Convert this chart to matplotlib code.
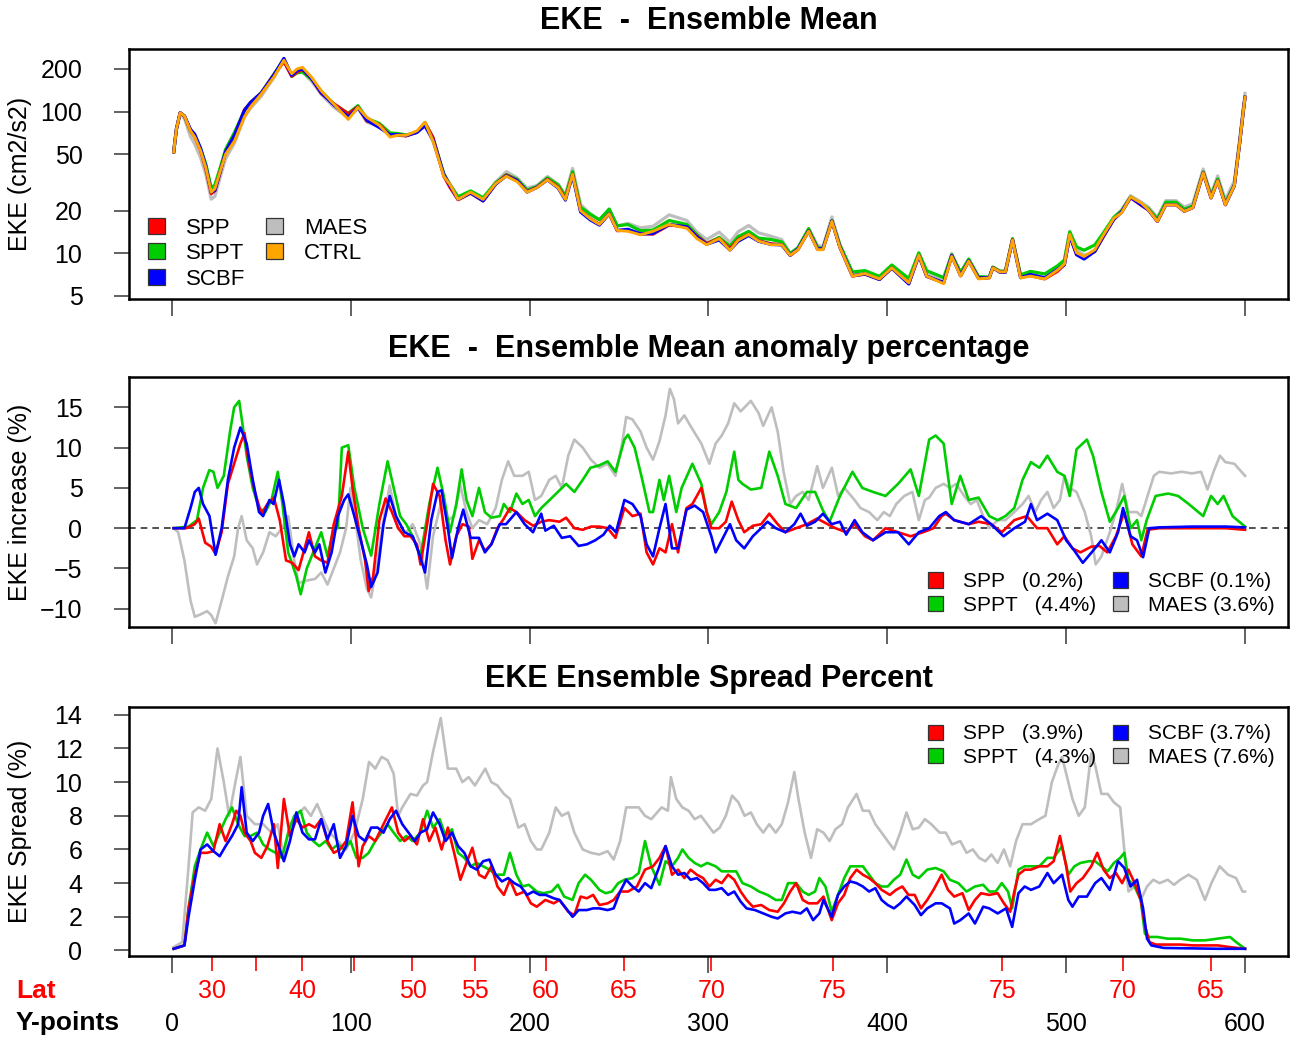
import numpy as np
import matplotlib
matplotlib.use("Agg")
import matplotlib.pyplot as plt
from matplotlib.patches import Patch

plt.rcParams['font.family'] = ['Liberation Sans', 'DejaVu Sans']

# ---- values (x = Y-point, y = value) ----
# CTRL ensemble mean EKE (cm2/s2)
ctrl_mean = [(1, 52), (2.5, 75), (4.6, 98), (7, 93), (10.4, 73), (12.8, 66), (16, 53), (19, 40), (22, 27),
             (24, 28.5), (27, 38), (30, 50), (35, 62), (40.6, 92), (44, 108), (50, 133), (57, 175), (62.6, 230),
             (67, 185), (70, 200), (73, 205), (78, 175), (83.5, 140), (90.5, 113), (98.6, 88), (104, 107),
             (109, 91), (116, 80), (122, 66), (126, 68), (131, 68), (137, 73), (141.5, 84), (146, 62), (152, 35),
             (155.5, 30.5), (160, 24), (167, 27), (174, 24), (181, 31), (187, 35), (193, 32), (198.6, 27),
             (204, 29), (210, 33), (216, 29), (220, 24), (224, 36), (228.5, 20), (234, 17.5), (239, 16),
             (244.5, 19), (249, 14.5), (255, 14.3), (262, 13.5), (269, 14.3), (278, 16), (288, 15), (293.5, 12.7),
             (299, 11.5), (306, 12.7), (312, 10.5), (316.7, 12.4), (322.5, 13.6), (328, 12.2), (335, 11.5),
             (341, 11.5), (345.7, 9.7), (350, 10.6), (356, 14.3), (361, 10.6), (364, 10.6), (369, 16.8),
             (373.5, 11), (380.5, 6.9), (387.5, 7.2), (395.6, 6.6), (402.5, 7.9), (412, 6.2), (417.6, 9.7),
             (422, 6.9), (431.5, 6.1), (436, 9.5), (441, 6.9), (445.5, 8.8), (451, 6.6), (457, 6.7), (459, 7.9),
             (463, 7.4), (466, 7.4), (470, 12.4), (474.5, 6.7), (480, 6.9), (488, 6.6), (495, 7.6), (499, 8.4),
             (502, 13.6), (505.8, 10.1), (510, 9.5), (516, 10.6), (521, 13.6), (526.7, 17.7), (531, 19.3),
             (536, 25), (542, 22.6), (546, 20.3), (551, 16.8), (555.7, 22), (561.5, 22), (566, 19.8),
             (570.8, 21), (576.6, 37), (581, 24.6), (584.7, 32.5), (589, 22), (594, 30), (597, 60), (599, 100),
             (600, 126)]

# Ensemble mean anomaly (%) relative to CTRL
spp_anom = [(1, 0), (8, 0), (12.8, 0.5), (15, 1.2), (18.6, -1.8), (22, -2.3), (24.4, -3.2), (27.8, -0.5),
            (31.3, 5.5), (34.8, 8), (38.3, 10.5), (40.6, 11.8), (43, 8), (46.4, 4.5), (50, 1.8), (53.4, 3),
            (57, 3.8), (60.3, 1), (63.8, -4), (67.3, -4.3), (70.8, -5.2), (74.2, -2.5), (76.6, -0.5), (80, -3.5),
            (83.5, -4), (87, -4.3), (90.5, 0.5), (95, 4), (98.6, 9.5), (101, 5), (104.4, 0), (108, -4),
            (110, -7.8), (112.5, -6), (116, 1), (119.5, 3.7), (123, 2), (126.5, 0), (130, -1), (133.4, -1),
            (137, -2), (139, -4.5), (142.7, 0.5), (146, 5.5), (149.7, 4), (153, -1.5), (155.5, -4.5), (159, -1),
            (162.4, 0.5), (166, 0.2), (168, -3.8), (171.7, -1.5), (175, -2.8), (178.6, -2), (182, 0),
            (185.6, 1.2), (189, 2.5), (192.6, 2), (197.2, 1), (202, 0.3), (206.5, 0.8), (211, 1), (216.7, 0.8),
            (220.4, 1.3), (225, 0), (229.7, -0.2), (234.3, 0.2), (239, 0.2), (243.6, 0), (248, -1.2), (253, 2.5),
            (257.5, 1.5), (262, 1.8), (265.4, -3), (269, -4.5), (272.6, -2.5), (276, -3), (279.6, 0.5),
            (283, -3), (287.7, 2.5), (291, 3), (296, 5), (299, 2), (301.6, 0), (306, 0), (309.7, 0.8),
            (313, 3.3), (316.7, 1), (320, -0.5), (324.8, 0.3), (329.5, 0.5), (334, 1.8), (338.7, 0.5),
            (343, -0.5), (349, 0), (355, 0.5), (360.8, 1.2), (366.6, 0.5), (371, 0), (377, -0.5), (381.7, 0.5),
            (387.5, -1), (392, -1.5), (399, 0), (406, -0.5), (413, -1), (420, -0.5), (425.8, 0), (430.4, 1.5),
            (432.7, 1.8), (437.4, 1), (445.5, 0.5), (451, 0.8), (458, 0.5), (464, -0.5), (471, 1), (478, 1.5),
            (483.7, 0), (489.5, 0), (495, -2), (499, -1), (503.5, -2.5), (508, -3), (514, -2.3), (518.6, -2.2),
            (523, -3), (527.8, -1), (532.5, 2), (537, -2), (542, -3.5), (545.5, -0.2), (552, 0), (570.8, 0),
            (589, 0), (600, -0.2)]

sppt_anom = [(1, 0), (9.3, 0.2), (14, 1), (17.4, 5), (20.9, 7.2), (23.2, 7), (25.5, 5), (29, 6.5), (32.5, 12),
             (34.8, 15), (37.6, 15.8), (39.4, 13), (41.8, 9), (45.2, 5), (48.7, 2.5), (52.2, 2), (55.7, 3.5),
             (59.2, 7), (61.5, 3.5), (65, -3), (69.6, -6), (72, -8.2), (75.4, -5), (79, -3), (83.5, -0.5),
             (87, -3.5), (90.5, 0), (92.8, 0), (95, 10), (98.6, 10.3), (102, 5), (106.7, 0), (111.4, -3.4),
             (116, 3), (120.6, 8.3), (124, 5), (127.6, 1.5), (131, 0.5), (134.6, -1), (139, -3.5), (143.9, 3),
             (148.5, 7.5), (152, 4), (155.5, -0.5), (159, 3), (162, 7.3), (164.7, 3.5), (168, 1.5), (171.7, 5),
             (175, 2), (178.6, 1.3), (183.3, 1.5), (185.6, 3), (189, 2), (192.6, 4.3), (196, 3), (199.5, 3.5),
             (203, 1.5), (206.5, 2.5), (213.5, 4), (220.4, 5.5), (225, 4.5), (229.7, 6), (234, 7.5), (239, 7.8),
             (243.6, 8.3), (248, 7), (253, 11), (255, 11.6), (258.7, 10), (263, 6), (267, 2), (269, 2),
             (272.6, 6), (275, 3.5), (278, 6.5), (282, 2), (285, 5), (291, 8), (296, 5.5), (299, 2),
             (301.6, 0.5), (306, 2), (310, 4.5), (314.4, 9.5), (316.7, 6), (319, 5.5), (323.7, 4.8),
             (329.5, 5), (334, 9.5), (338.7, 6.5), (343, 3), (349, 2.5), (355, 4.5), (359.6, 4.5), (364, 2.2),
             (367.7, 0.8), (373.5, 4), (380.5, 7), (386, 5), (392, 4.5), (399, 4), (406, 5.5), (413, 7.3),
             (417.6, 4), (423.4, 11), (427, 11.5), (431.5, 10.5), (436, 3), (440.8, 6.5), (445.5, 3.5),
             (451, 3.8), (457, 1.5), (461.7, 1), (466, 1.5), (471, 2.5), (475.6, 6), (480.3, 8.2), (485, 7.5),
             (489.5, 9), (495, 7), (499, 6.5), (502, 4), (505.8, 9.8), (511.6, 11), (515, 9), (519.7, 4.5),
             (524.4, 0.8), (529, 2.5), (532.5, 4), (536, 0), (539.6, 1), (542, -1.5), (545, 1), (550, 4),
             (557, 4.3), (562.6, 4), (568.5, 3), (576.6, 1.5), (581, 4), (584.7, 3), (588, 4), (593, 1.5),
             (600, 0.2)]

scbf_anom = [(1, 0), (7, 0), (10.4, 2.5), (12.8, 4.5), (15, 5), (17.4, 3), (21, 1.5), (24.4, -3.3), (27.8, 0),
             (31.3, 6), (34.8, 10), (38.3, 12.5), (41.8, 10.5), (45.2, 6), (48.7, 2), (51, 1.5), (54.5, 3.5),
             (56.8, 3), (59.9, 6), (62.6, 3), (66, -2), (68.4, -3.5), (70.8, -2), (74.2, -3), (76.6, -1.5),
             (80, -3), (82.4, -2), (85.8, -5.5), (89.3, -3), (92.8, 1.5), (96.3, 3.5), (98.6, 4.2), (102, 1.5),
             (105.6, -1.5), (109, -4.5), (111.4, -7.3), (115, -5.5), (118.3, 0.5), (121.8, 4), (125.3, 1.5),
             (130, -0.5), (134.6, -1), (138, -3), (141.5, -5.5), (145, 1), (148.5, 4.5), (150.8, 4.7),
             (154.3, 0), (156.6, -3.7), (160, 0), (162.9, 2.3), (167, -1.2), (171.7, -1.2), (175, -3),
             (178.6, -2), (183.3, 0.5), (186.8, 0.5), (192.6, 2), (197.2, 0.5), (201.9, -0.5), (206.5, 1.8),
             (208.8, -0.3), (213.5, 0.3), (218, -1.2), (222.7, -1), (227.4, -2.2), (232, -2), (236.7, -1.5),
             (241.3, -0.8), (244.8, 0.3), (248.3, -0.5), (253, 3.5), (257.5, 3), (262, 1.5), (265.4, -2),
             (269, -3.5), (272.6, 0), (276, 3), (279.6, -2.5), (283, -2.5), (287.7, 2.3), (292.3, 2.8),
             (297, 2), (301.6, -1), (304, -3), (307.4, -1.5), (312, 0.5), (315.5, -1.5), (320, -2.5),
             (324.8, -1), (329.5, 0), (333, 0.8), (337.6, 0), (343, -0.5), (348, 0.5), (351.5, 1.8), (355, 0.3),
             (359.6, 0.8), (364, 1.8), (368.9, 0.5), (373.5, 0.8), (377, -0.8), (381.7, 1), (386, -0.5),
             (392, -1.5), (399, -0.5), (406, -0.5), (412, -2), (417.6, -0.5), (423.4, 0), (429, 1.5),
             (432.7, 2), (437.4, 1), (445.5, 0.5), (452.5, 1.5), (458, 0.5), (465, -1), (471, 0), (477, 0.8),
             (480.3, 3), (483.7, 1), (489.5, 1.8), (495, 1), (500, -1.5), (504.6, -2.8), (509.3, -4.3),
             (515, -2.8), (519.7, -1.5), (524.4, -3), (529, -0.5), (531.8, 2.5), (536, -1), (539.6, -1.5),
             (543, -3.6), (546.5, 0), (552, 0.1), (570.8, 0.2), (589, 0.2), (600, 0.1)]

maes_anom = [(1, 0), (3.5, -0.5), (7, -4), (10.4, -9), (12.8, -11), (16, -10.7), (19.7, -10.3), (22, -10.8),
             (24.4, -11.8), (27.8, -9), (31.3, -6), (34.8, -3.5), (37, 0), (39, 1.5), (41.8, -1.5), (45.2, -2.5),
             (47.6, -4.5), (51, -3), (54.5, -0.5), (58, -1), (61.5, 0), (65, 1.5), (68.4, -4), (70.8, -6.8),
             (75.4, -6.5), (80, -6.3), (83.5, -5.5), (87, -7), (90.5, -5), (94, -3), (97.4, 0), (99.8, 5),
             (102, 2), (105.6, -4), (109, -7.5), (111.4, -8.6), (115, -4), (118.3, 1), (121.8, 5.3),
             (126.5, 0), (131, -0.5), (134.6, 0.5), (139, -2), (142.7, -7.5), (146, -1), (150.8, 3.5),
             (154.3, 1), (157.8, 1.5), (161.3, 5.3), (164.7, 2), (168, 0), (171.7, 1), (176.3, 0.5), (181, 2.5),
             (184.5, 6), (188, 8.3), (191.4, 6.5), (196, 6.5), (199.5, 7), (203, 3.5), (206.5, 4), (211, 6),
             (214.6, 6.5), (218, 5), (221.6, 9), (225, 11), (229.7, 10), (234.3, 8.5), (239, 7.5), (243.6, 8),
             (248, 6.5), (251.7, 10.5), (254, 13.8), (257.5, 13.5), (262, 12), (265.4, 10), (269, 8.5),
             (272.6, 10.8), (276, 14), (278.4, 17.3), (280.7, 16), (283, 13), (286.5, 14), (291, 12.3),
             (296, 10.5), (300.5, 8), (304, 10.5), (307.4, 11.5), (311, 13), (314.4, 15.5), (318, 14.5),
             (323.7, 15.8), (328, 14.3), (330.6, 12.7), (335.3, 15), (338.7, 12), (342, 7), (345.7, 3),
             (349, 4), (352.7, 4.5), (356, 3.5), (360.8, 7.7), (364, 5), (369, 7.5), (372.5, 4), (376, 5),
             (381.7, 3.5), (385, 2.5), (389.8, 2), (394.4, 1), (398, 2), (401.4, 1.5), (405, 3), (409.5, 4),
             (414, 4.5), (417.6, 1), (421, 3.5), (423.4, 3.8), (427, 5), (431.5, 5.5), (435, 5), (438.5, 5.5),
             (443, 4), (446.6, 3), (450, 3.5), (453.6, 1.5), (457, 0), (461.7, 1), (466, 1), (471, 2),
             (475.6, 3), (479, 4), (482.7, 2), (486, 3.5), (489.5, 4.5), (493, 2.5), (496.5, 3.5), (499, 6.5),
             (502, 5), (505.8, 4.5), (510.4, 2), (514, -1), (516.5, -4.5), (519.7, -3.5), (524.4, -0.5),
             (527.8, 2), (531.3, 5.5), (534.8, 2), (539.6, 2), (542, 1.5), (545.5, 4), (549, 6.5), (552, 7),
             (558.6, 6.8), (564.5, 7), (570.4, 6.8), (575.4, 7), (579, 4.8), (582.4, 7), (586, 9), (589, 8.2),
             (594, 8), (600, 6.5)]

# Ensemble spread (%)
spp_sprd = [(1, 0.1), (7, 0.3), (9.3, 2.5), (12.8, 4.5), (16, 5.8), (19.7, 5.8), (23.2, 5.9), (26.7, 7.5),
            (30, 6.5), (33.6, 7.5), (36, 8.3), (38.3, 8), (40.6, 7), (44, 6.5), (46.4, 5.8), (50, 5.5),
            (53.4, 6.2), (57, 7.5), (59.2, 4.9), (62.6, 9), (66, 6.8), (69.6, 7.8), (73, 7.3), (76.6, 7.5),
            (80, 7.3), (83.5, 7.8), (87, 6.5), (90.5, 5.8), (94, 6), (97.4, 6.5), (101, 8.8), (104.4, 5),
            (106.7, 6.2), (110, 6.8), (113.7, 6.5), (118.3, 7.5), (123, 8.5), (126.5, 7), (130, 6.5),
            (133.4, 6.8), (137, 6.3), (140.4, 7.8), (143.9, 6.5), (147.3, 7.3), (150.8, 6), (154.3, 7.3),
            (157.8, 5.8), (161.3, 4.2), (164.7, 5.2), (168, 6.1), (171.7, 4.5), (175, 4.3), (178.6, 5),
            (182, 3.8), (185.6, 3.3), (189, 4.2), (192.6, 3.3), (197.2, 3.5), (200.7, 2.8), (204, 2.6),
            (208.8, 3), (213.5, 2.8), (216.7, 3), (221.6, 2.3), (225, 2.1), (228.5, 3.2), (232, 3.1),
            (235.5, 3.3), (239, 2.7), (243.6, 2.8), (247, 3), (250.6, 3.5), (255, 3.5), (260, 3.8),
            (264.5, 4.8), (269, 5), (272.6, 5.5), (276, 6.2), (279.6, 4.5), (283, 4.8), (286.5, 4.3), (290, 4.8),
            (293.5, 4.5), (297, 4.3), (300.5, 3.8), (304, 4.2), (307.4, 4), (311, 4.5), (314.4, 4.2), (318, 3.5),
            (321.3, 3), (324.8, 2.6), (329.5, 2.7), (334, 2.4), (338.7, 2.3), (342.2, 2.8), (345.7, 3.5),
            (349, 4), (352.7, 3), (356, 2.8), (360.8, 2.8), (364.3, 3.2), (368.9, 1.8), (372.4, 2.8),
            (375.9, 3.3), (379.3, 4.3), (382.8, 4.8), (386.3, 4.5), (389.8, 4.3), (393.3, 4), (396.8, 3.6),
            (401.4, 3.3), (404.9, 3.6), (408.4, 3.8), (411.8, 3.3), (415.3, 3.3), (418.8, 2.5), (422.3, 3),
            (425.8, 3.6), (430.4, 4.5), (433.9, 3.6), (437.4, 3.2), (442, 3.4), (445.5, 2.4), (449, 3),
            (452.4, 3.4), (457, 3.3), (461.7, 3.4), (465.2, 2.8), (468.7, 2.3), (471, 3.5), (473.3, 4.5),
            (476.8, 4.8), (480.3, 4.8), (485, 5), (489.5, 5), (493, 5.3), (496.5, 6.8), (500, 5), (502.3, 3.5),
            (505.8, 4), (509.3, 4.3), (514, 5), (517.4, 5.8), (520.9, 4.8), (524.4, 4.3), (527.8, 4.6),
            (531.3, 4), (534.8, 4.8), (538.3, 4), (541.7, 3), (544, 1.5), (546.5, 0.5), (550, 0.35),
            (556.8, 0.35), (563.8, 0.35), (570.8, 0.3), (577.6, 0.3), (584.7, 0.3), (591.6, 0.2), (600, 0.1)]

sppt_sprd = [(1, 0.1), (7, 0.3), (9.3, 2.5), (12.8, 5), (16, 6), (19.7, 7), (23.2, 6.2), (26.7, 7), (30, 7.8),
             (33.6, 8.5), (37, 7.5), (40.6, 6.8), (44, 6.8), (47.6, 7), (51, 6.3), (54.5, 6), (58, 5.8),
             (61.5, 5.5), (65, 7), (68.4, 8), (72, 8.3), (75.4, 7), (79, 6.5), (82.4, 6.2), (86, 6.5), (89.3, 6),
             (92.8, 6.3), (96.3, 6), (99.8, 6.5), (103.2, 5.5), (106.7, 5.5), (110, 5.8), (113.7, 6.5),
             (117.2, 7), (120.6, 7.5), (124, 7), (127.6, 6.5), (131, 6.8), (134.6, 6.5), (139, 7), (142.7, 8.3),
             (146, 7.3), (149.7, 7.8), (153, 6.8), (156.6, 7.2), (160, 5.8), (163.5, 5.5), (167, 5),
             (170.5, 5.2), (174, 5), (177.5, 4.8), (181, 4.5), (185.6, 4.5), (189, 5.8), (192.6, 4.5),
             (196, 3.8), (199.5, 3.9), (204, 3.5), (207.7, 3.4), (212.3, 3.5), (215.8, 3.9), (219.3, 3.2),
             (224, 3), (227.4, 4), (231, 4.5), (234.3, 4.2), (239, 3.6), (242.5, 3.4), (246, 3.5), (249.5, 4),
             (253, 4.2), (257.5, 4.3), (261, 4.6), (264.5, 6.5), (268, 5), (272.6, 3.9), (276, 5.3), (279.6, 5),
             (283, 5.5), (285.4, 6), (288.9, 5.5), (292.3, 5.2), (295.8, 5), (299.3, 5.2), (304, 5), (307.4, 4.7),
             (312, 4.7), (315.5, 4.7), (319, 4), (323.7, 3.8), (328.3, 3.5), (333, 3.3), (337.6, 3), (341, 3),
             (344.5, 4), (349, 4), (352.7, 3.5), (356, 3.3), (359.6, 3.5), (362, 4.3), (365.4, 3.8),
             (368.9, 2.3), (372.4, 3.3), (375.9, 4.3), (379.3, 5), (382.8, 5), (386.3, 5), (389.8, 4.5),
             (393.3, 4), (396.8, 3.8), (400.2, 3.8), (403.7, 4.2), (407.2, 4.5), (410.7, 5.4), (414.2, 4.5),
             (417.6, 4.3), (422.3, 4.8), (427, 4.9), (431.5, 4.7), (435, 4.2), (439.7, 4), (444.3, 3.5),
             (449, 3.8), (453.6, 3.9), (457, 3.5), (460.6, 3.5), (464, 4), (467.5, 3.5), (469.8, 2.5),
             (473.3, 4.8), (476.8, 5), (480.3, 5), (485, 5), (489.5, 5.5), (493, 5.5), (497.7, 6.2),
             (501.2, 4.5), (504.6, 5), (508, 5.2), (512.7, 5.3), (516.2, 5.3), (519.7, 5), (523.2, 4.7),
             (526.7, 5.2), (530.2, 5.5), (532.5, 5.8), (534.8, 4.2), (538.3, 3.8), (541.7, 3), (544, 1),
             (546.5, 0.8), (551, 0.8), (556.8, 0.7), (563.8, 0.7), (570.8, 0.6), (577.6, 0.6), (584.7, 0.7),
             (591.6, 0.8), (595, 0.5), (600, 0.1)]

scbf_sprd = [(1, 0.1), (7, 0.3), (9.3, 2), (12.8, 4.2), (16, 6), (19.7, 6.3), (23.2, 5.9), (26.7, 5.6), (30, 6.2),
             (33.6, 6.8), (37, 7.5), (39, 9.7), (41.8, 7), (45.2, 6.5), (48.7, 7), (51, 8), (53.8, 8.7), (57, 7),
             (60.3, 6), (62.6, 5.3), (66, 6.5), (69.6, 8.2), (73, 7), (76.6, 6.6), (80, 6.6), (83.5, 7.8),
             (87, 6.6), (90.5, 7.5), (94, 5.5), (97.4, 6.2), (101, 8), (104.4, 6.8), (108, 6.5), (111.4, 7.3),
             (115, 7.3), (118.3, 7), (121.8, 7.8), (125.3, 8.3), (128.8, 7.5), (132.3, 7), (135.8, 6.5),
             (139, 7), (142.7, 7.2), (146, 8.2), (149.7, 7.5), (153, 6.5), (156.6, 7), (160, 6.2), (163.5, 5.8),
             (167, 5), (170.5, 4.8), (174, 5.3), (177.5, 5.4), (181, 4.5), (184.5, 4.1), (188, 4.3), (191.4, 4),
             (195, 3.8), (198.6, 3.3), (202, 3.5), (205.6, 3.3), (209, 3.3), (213.5, 3.1), (216.7, 3),
             (220.4, 2.5), (224, 2), (227.4, 2.4), (232, 2.4), (235.5, 2.5), (239, 2.5), (243.6, 2.4),
             (247, 2.5), (250.6, 3.5), (254, 4.2), (257.5, 3.8), (261, 3.5), (264.5, 4), (268, 3.7), (272.6, 5),
             (276, 6.2), (279.6, 5), (283, 4.5), (286.5, 4.6), (290, 4.2), (293.5, 4.3), (297, 4), (300.5, 3.6),
             (304, 3.6), (307.4, 3.7), (311, 3.3), (314.4, 3.5), (318, 2.9), (321.3, 2.5), (326, 2.4),
             (330.6, 2.2), (335.3, 2), (338.7, 1.9), (343, 2.2), (346.9, 2.3), (351.5, 2.2), (355, 2.5),
             (358.5, 1.8), (362, 2.2), (364.3, 3), (368.9, 2), (372.4, 3.3), (375.9, 3.8), (379.3, 4.1),
             (382.8, 4), (386.3, 3.8), (389.8, 3.5), (393.3, 3.7), (396.8, 3), (400.2, 2.7), (403.7, 2.5),
             (407.2, 2.8), (410.7, 3.2), (415.3, 2.7), (418.8, 2.1), (422.3, 2.5), (427, 2.8), (430.4, 2.8),
             (435, 2.5), (437.4, 1.6), (440.8, 1.8), (445.5, 2.2), (449, 1.6), (453.6, 2.6), (457, 2.5),
             (461.7, 2.2), (466.4, 2.5), (469.8, 1.4), (473.3, 3.4), (476.8, 3.8), (480.3, 3.6), (485, 3.8),
             (489.5, 4.6), (493, 4), (497.7, 4.5), (501.2, 3), (503.5, 2.6), (507, 3.2), (511.6, 3.2),
             (516.2, 4), (519.7, 4.3), (524.4, 3.6), (529, 5.3), (532.5, 4.9), (536, 3.8), (539.6, 4.2),
             (543, 2.5), (545.2, 0.7), (547.6, 0.3), (554.5, 0.15), (570.8, 0.12), (584.7, 0.1), (600, 0.1)]

maes_sprd = [(1, 0.2), (5.8, 0.5), (9.3, 5), (11.6, 8.2), (15, 8.5), (18.6, 8.3), (22, 9), (25.5, 12), (29, 10),
             (32, 8), (35.5, 10), (38.3, 11.5), (41.8, 8), (46.4, 7.5), (51, 7.5), (55.7, 7), (59.2, 7.5),
             (62.6, 5.5), (66, 7.5), (69.6, 8), (74.2, 8.5), (77.7, 8), (81.2, 8.7), (84.7, 7.8), (88.2, 7),
             (92.8, 6.5), (97.4, 6), (102, 7), (106.7, 9), (110.2, 11.2), (113.7, 10.8), (117.2, 11.5),
             (120.6, 11.3), (124, 10.5), (126.5, 8), (128.8, 8.5), (133.4, 9.3), (137, 9.2), (140.4, 9.8),
             (142.7, 10), (146, 11.8), (150.3, 13.8), (154.3, 10.8), (159, 10.8), (162.4, 10), (165.9, 10.3),
             (169.4, 9.8), (175.2, 10.8), (178.6, 10), (182, 9.8), (185.6, 9.3), (189, 9), (193.7, 7.3),
             (197.2, 7.5), (200.7, 6.5), (204, 6), (206.5, 6), (211, 7), (214.6, 8.5), (218, 8), (221.6, 8.2),
             (225, 7), (229.7, 6), (234.3, 5.8), (239, 5.7), (243.6, 5.9), (247, 5.4), (250.6, 6.5), (254, 8.5),
             (257.5, 8.5), (261, 8.5), (264.5, 8), (268, 7.8), (273.8, 8.5), (277.3, 8.3), (279, 10.3), (282, 9),
             (285.4, 8.5), (288.9, 8.3), (292.3, 7.8), (295.8, 8), (299.3, 7.5), (302.8, 7), (306.3, 7.3),
             (309.7, 8), (313.2, 9.2), (316.7, 8.8), (320.2, 8), (323.7, 8.2), (327, 7.5), (330.6, 7),
             (334, 7.5), (337.6, 7), (341, 7.5), (344.5, 8.8), (348, 10.6), (350.3, 9), (353.8, 7), (357.3, 5.5),
             (360.8, 7.2), (364.3, 7), (367.7, 6.5), (371, 7.2), (374.7, 7.5), (378, 8.5), (382.8, 9.3),
             (386.3, 8.3), (389.8, 8.3), (393.3, 7.5), (396.8, 7), (400.2, 6.5), (403.7, 6), (407.2, 7),
             (410.7, 8.2), (414.2, 7.2), (417.6, 7.3), (421, 7.8), (424.6, 7.5), (429.2, 7), (432.7, 7),
             (436.2, 6.3), (440.8, 6.5), (444.3, 5.8), (447.8, 6), (451.3, 5.5), (454.8, 5.3), (458.2, 5.7),
             (461.7, 5.2), (465.2, 6), (468.7, 5), (472, 6.5), (475.6, 7.5), (480.3, 7.5), (485, 7.8),
             (488.4, 8), (492, 10), (495.4, 11), (497.7, 11.5), (500, 10.5), (503.5, 9), (507, 8), (510.4, 8.5),
             (514, 11.7), (516.2, 11), (519.7, 9.3), (523.2, 9.3), (526.7, 8.8), (530.2, 8.5), (532.5, 6),
             (534.8, 3.5), (538.3, 3.8), (541.7, 3), (545.2, 3.8), (548.7, 4.2), (552.2, 4), (556.8, 4.2),
             (560.3, 3.9), (563.8, 4.2), (568.4, 4.5), (573, 4.2), (577.6, 3), (581.2, 4), (585.8, 5),
             (590.5, 4.5), (595, 4.3), (598.6, 3.5), (600, 3.5)]

names = ['SPP', 'SPPT', 'SCBF', 'MAES', 'CTRL']
colors = {'SPP': '#FF0000', 'SPPT': '#00CD00', 'SCBF': '#0000FF', 'MAES': '#BEBEBE', 'CTRL': '#FFA500'}
anom_pct = {'SPP': '0.2%', 'SPPT': '4.4%', 'SCBF': '0.1%', 'MAES': '3.6%'}
sprd_pct = {'SPP': '3.9%', 'SPPT': '4.3%', 'SCBF': '3.7%', 'MAES': '7.6%'}

ypoint_ticks = [0, 100, 200, 300, 400, 500, 600]
lat_ticks = [22.6, 46.9, 72.8, 102, 134.5, 169.6, 209.2, 252.8, 301.6, 369.4, 464.3, 531.8, 580.9]
lat_labels = ['30', '', '40', '', '50', '55', '60', '65', '70', '75', '75', '70', '65']

anom = {'SPP': spp_anom, 'SPPT': sppt_anom, 'SCBF': scbf_anom, 'MAES': maes_anom}
sprd = {'SPP': spp_sprd, 'SPPT': sppt_sprd, 'SCBF': scbf_sprd, 'MAES': maes_sprd}

LW = 1.9
TICK_FS = 18
LAB_FS = 18
TITLE_FS = 22
LEG_FS = 15

fig = plt.figure(figsize=(12.99, 10.43), dpi=100)
ax1 = fig.add_axes([0.0993, 0.7133, 0.8922, 0.2397])
ax2 = fig.add_axes([0.0993, 0.3988, 0.8922, 0.2397])
ax3 = fig.add_axes([0.0993, 0.0834, 0.8922, 0.2387])


def frame(ax):
    for s in ax.spines.values():
        s.set_linewidth(1.8)
    ax.set_xlim(-24, 624)
    ax.set_xticks(ypoint_ticks)
    ax.tick_params(axis='both', length=10.5, width=1.3, color='#555555', labelsize=TICK_FS)
    ax.tick_params(axis='y', pad=23)
    ax.tick_params(axis='x', length=12.5)


def handles(labels):
    return [Patch(facecolor=colors[n], edgecolor='#333333', linewidth=0.9, label=l) for n, l in labels]


leg_kw = dict(frameon=False, ncol=2, handlelength=0.75, handleheight=0.75, handletextpad=0.95,
              labelspacing=0.2, borderpad=0, borderaxespad=0)

# --- top: ensemble mean (experiments = CTRL scaled by their anomaly %) ---
cx, cy = np.array(ctrl_mean).T
for n in ['MAES', 'SPPT', 'SPP', 'SCBF']:
    ex, ey = np.array(anom[n]).T
    ax1.plot(cx, cy * (1 + np.interp(cx, ex, ey) / 100.0), color=colors[n], lw=2.3,
             solid_joinstyle='round')
ax1.plot(cx, cy, color=colors['CTRL'], lw=2.1, solid_joinstyle='round')
frame(ax1)
ax1.set_yscale('log')
ax1.set_ylim(4.76, 276)
ax1.set_yticks([5, 10, 20, 50, 100, 200])
ax1.set_yticklabels(['5', '10', '20', '50', '100', '200'])
ax1.yaxis.set_minor_locator(plt.NullLocator())
ax1.tick_params(labelbottom=False)
ax1.set_ylabel('EKE (cm2/s2)', fontsize=LAB_FS)
ax1.yaxis.set_label_coords(-0.0837, 0.5)
ax1.set_title('EKE  -  Ensemble Mean', fontsize=TITLE_FS, fontweight='bold', pad=14.5)
ax1.legend(handles=handles([(n, n) for n in names]), loc='lower left', bbox_to_anchor=(0.0164, 0.038),
           fontsize=16, columnspacing=0.94, **leg_kw)

# --- middle: anomaly percentage ---
for n in ['MAES', 'SPPT', 'SPP', 'SCBF']:
    ex, ey = np.array(anom[n]).T
    ax2.plot(ex, ey, color=colors[n], lw=LW, solid_joinstyle='round')
ax2.axhline(0, color='#333333', lw=1.2, ls=(0, (4, 3)), zorder=0)
frame(ax2)
ax2.set_ylim(-12.27, 18.76)
ax2.set_yticks([-10, -5, 0, 5, 10, 15])
ax2.tick_params(labelbottom=False)
ax2.set_ylabel('EKE increase (%)', fontsize=LAB_FS)
ax2.yaxis.set_label_coords(-0.0837, 0.5)
ax2.set_title('EKE  -  Ensemble Mean anomaly percentage', fontsize=TITLE_FS, fontweight='bold', pad=14.5)
lab2 = [('SPP', 'SPP   (%s)' % anom_pct['SPP']), ('SPPT', 'SPPT   (%s)' % anom_pct['SPPT']),
        ('SCBF', 'SCBF (%s)' % anom_pct['SCBF']), ('MAES', 'MAES (%s)' % anom_pct['MAES'])]
ax2.legend(handles=handles(lab2), loc='lower left', bbox_to_anchor=(0.689, 0.05), fontsize=LEG_FS,
           columnspacing=0.8, **leg_kw)

# --- bottom: spread percent ---
for n in ['MAES', 'SPPT', 'SPP', 'SCBF']:
    ex, ey = np.array(sprd[n]).T
    ax3.plot(ex, ey, color=colors[n], lw=LW, solid_joinstyle='round')
frame(ax3)
ax3.set_ylim(-0.33, 14.46)
ax3.set_yticks(range(0, 15, 2))
ax3.set_ylabel('EKE Spread (%)', fontsize=LAB_FS)
ax3.yaxis.set_label_coords(-0.0837, 0.5)
ax3.set_title('EKE Ensemble Spread Percent', fontsize=TITLE_FS, fontweight='bold', pad=14.5)
lab3 = [('SPP', 'SPP   (%s)' % sprd_pct['SPP']), ('SPPT', 'SPPT   (%s)' % sprd_pct['SPPT']),
        ('SCBF', 'SCBF (%s)' % sprd_pct['SCBF']), ('MAES', 'MAES (%s)' % sprd_pct['MAES'])]
ax3.legend(handles=handles(lab3), loc='upper left', bbox_to_anchor=(0.689, 0.93), fontsize=LEG_FS,
           columnspacing=0.8, **leg_kw)

ax3.set_xticks(ypoint_ticks)
ax3.set_xticklabels([str(v) for v in ypoint_ticks])
ax3.set_xticks(lat_ticks, minor=True)
ax3.set_xticklabels(lat_labels, minor=True)
ax3.tick_params(axis='x', which='major', pad=27.5, labelsize=TICK_FS)
ax3.tick_params(axis='x', which='minor', length=11, width=1.2, color='#FF0000', labelcolor='#FF0000',
                pad=5.5, labelsize=TICK_FS)

fig.text(16 / 1299, 1 - 991 / 1043, 'Lat', color='#FF0000', fontsize=19, fontweight='bold', va='center')
fig.text(16 / 1299, 1 - 1023 / 1043, 'Y-points', color='black', fontsize=19, fontweight='bold', va='center')

fig.savefig('out.png', dpi=100)
